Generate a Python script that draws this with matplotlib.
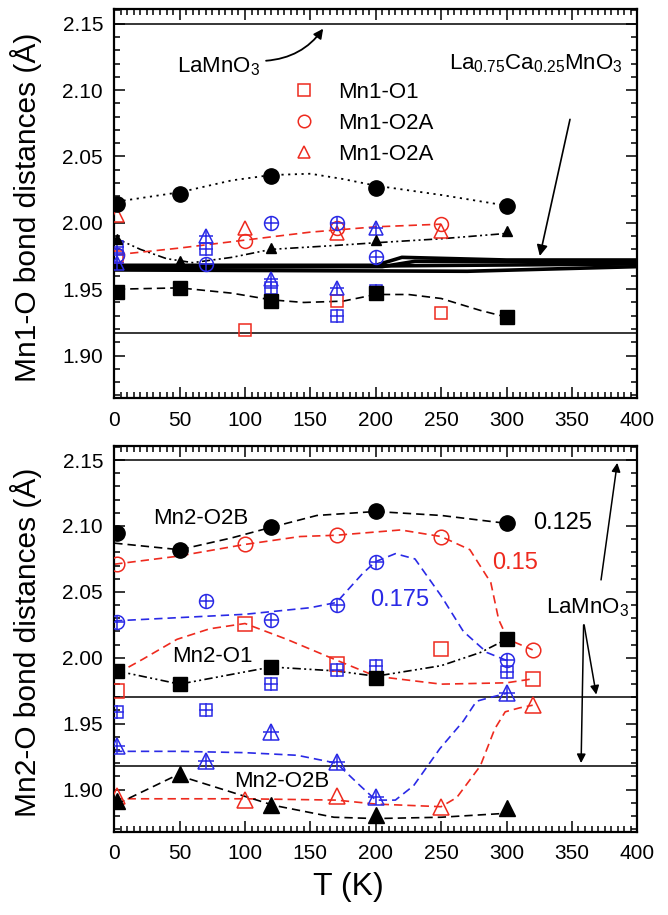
import matplotlib
matplotlib.use("Agg")
import matplotlib.pyplot as plt
from matplotlib.lines import Line2D
from matplotlib.ticker import MultipleLocator

plt.rcParams['font.family'] = ['Liberation Sans', 'DejaVu Sans']
plt.rcParams['mathtext.default'] = 'regular'

# ---------------- top panel: Mn1-O ----------------
T_blk1 = [2, 50, 120, 200, 300]
mn1_circ_blk = [2.014, 2.022, 2.035, 2.026, 2.013]
mn1_sq_blk = [1.948, 1.951, 1.941, 1.947, 1.929]
mn1_tri_blk = [1.988, 1.971, 1.981, 1.987, 1.994]

T_red1 = [2, 100, 170, 250]
mn1_sq_red = [1.974, 1.919, 1.941, 1.932]
mn1_circ_red = [1.976, 1.986, 1.996, 1.999]
mn1_tri_red = [2.006, 1.996, 1.992, 1.994]

T_blue1 = [2, 70, 120, 170, 200]
mn1_circ_blue = [1.976, 1.969, 2.000, 2.000, 1.974]
mn1_sq_blue = [1.982, 1.980, 1.951, 1.930, 1.949]
mn1_tri_blue = [1.970, 1.990, 1.958, 1.951, 1.996]

# guide curves
c1_circ_T = [2, 50, 90, 120, 150, 175, 200, 250, 300]
c1_circ_v = [2.016, 2.023, 2.032, 2.036, 2.037, 2.033, 2.028, 2.021, 2.013]
c1_sq_T = [2, 50, 90, 120, 145, 175, 200, 225, 250, 280, 300]
c1_sq_v = [1.950, 1.951, 1.947, 1.942, 1.940, 1.941, 1.946, 1.946, 1.943, 1.934, 1.929]
c1_tri_T = [2, 20, 40, 60, 90, 120, 170, 200, 250, 300]
c1_tri_v = [1.988, 1.980, 1.973, 1.970, 1.974, 1.980, 1.983, 1.985, 1.988, 1.992]
c1_red_T = [2, 50, 100, 150, 200, 250]
c1_red_v = [1.976, 1.981, 1.987, 1.993, 1.997, 1.999]

# La0.75Ca0.25MnO3 thick lines
lca_T = [[0, 200, 220, 300, 400], [0, 205, 230, 400], [0, 400], [0, 270, 400]]
lca_v = [[1.968, 1.968, 1.974, 1.972, 1.972], [1.967, 1.967, 1.971, 1.971],
         [1.966, 1.969], [1.9645, 1.9635, 1.967]]

lamno3_top = [2.15, 1.917]

# ---------------- bottom panel: Mn2-O ----------------
T_blk2 = [2, 50, 120, 200, 300]
mn2_circ_blk = [2.095, 2.082, 2.099, 2.111, 2.102]
mn2_sq_blk = [1.990, 1.980, 1.993, 1.985, 2.014]
mn2_tri_blk = [1.891, 1.912, 1.888, 1.881, 1.886]

T_red2 = [2, 100, 170, 250, 320]
mn2_circ_red = [2.071, 2.086, 2.093, 2.092, 2.006]
mn2_sq_red = [1.975, 2.026, 1.995, 2.007, 1.984]
mn2_tri_red = [1.895, 1.892, 1.895, 1.887, 1.964]

T_blue2 = [2, 70, 120, 170, 200, 300]
mn2_circ_blue = [2.027, 2.043, 2.029, 2.040, 2.073, 1.998]
mn2_sq_blue = [1.959, 1.960, 1.980, 1.991, 1.994, 1.989]
mn2_tri_blue = [1.933, 1.922, 1.944, 1.921, 1.894, 1.973]

c2_circ_blk_T = [0, 50, 90, 120, 155, 200, 250, 300]
c2_circ_blk_v = [2.087, 2.082, 2.091, 2.099, 2.108, 2.111, 2.108, 2.102]
c2_circ_red_T = [0, 48, 100, 142, 170, 219, 250, 272, 288, 294, 301, 320]
c2_circ_red_v = [2.071, 2.077, 2.086, 2.092, 2.093, 2.097, 2.092, 2.082, 2.057, 2.029, 2.014, 2.006]
c2_circ_blue_T = [0, 60, 100, 150, 170, 190, 200, 215, 230, 250, 267, 285, 300]
c2_circ_blue_v = [2.028, 2.031, 2.033, 2.038, 2.042, 2.064, 2.073, 2.079, 2.075, 2.047, 2.020, 2.004, 1.998]
c2_sq_red_T = [2, 22, 48, 73, 100, 132, 168, 200, 250, 300, 320]
c2_sq_red_v = [1.988, 1.999, 2.014, 2.022, 2.026, 2.014, 1.999, 1.986, 1.980, 1.981, 1.984]
c2_sq_blk_T = [2, 50, 120, 170, 200, 250, 280, 300]
c2_sq_blk_v = [1.990, 1.980, 1.993, 1.990, 1.986, 1.994, 2.004, 2.014]
c2_tri_blue_T = [0, 50, 100, 140, 170, 188, 200, 215, 229, 249, 267, 277, 288, 300]
c2_tri_blue_v = [1.929, 1.929, 1.928, 1.926, 1.920, 1.903, 1.892, 1.892, 1.903, 1.931, 1.952, 1.967, 1.970, 1.973]
c2_tri_red_T = [0, 100, 170, 200, 250, 262, 280, 291, 299, 310, 320]
c2_tri_red_v = [1.893, 1.893, 1.892, 1.889, 1.887, 1.894, 1.918, 1.946, 1.959, 1.962, 1.964]
c2_tri_blk_T = [2, 48, 122, 168, 200, 250, 300]
c2_tri_blk_v = [1.889, 1.911, 1.888, 1.879, 1.878, 1.879, 1.882]

lamno3_bot = [2.15, 1.970, 1.918]

RED = '#ee2a1e'
BLUE = '#2a2ae6'
DASH = (0, (5, 3))
DOT = (0, (1.2, 2.5))
DASHDOT = (0, (5, 2, 1.2, 2, 1.2, 2))


def open_marker(ax, x, y, m, color, size, cross=False):
    ax.plot(x, y, ls='none', marker=m, ms=size, mfc='none', mec=color, mew=1.1, zorder=4)
    if cross:
        ax.plot(x, y, ls='none', marker='+', ms=size * 1.05, mec=color, mew=1.1, zorder=4)


def setup(ax):
    ax.set_xlim(0, 400)
    ax.set_ylim(1.868, 2.161)
    ax.xaxis.set_major_locator(MultipleLocator(50))
    ax.xaxis.set_minor_locator(MultipleLocator(5))
    ax.yaxis.set_major_locator(MultipleLocator(0.05))
    ax.yaxis.set_minor_locator(MultipleLocator(0.01))
    ax.yaxis.set_major_formatter(matplotlib.ticker.FormatStrFormatter('%.2f'))
    ax.tick_params(which='both', direction='in', top=True, right=True, labelsize=15, width=1.1)
    ax.tick_params(which='major', length=8)
    ax.tick_params(which='minor', length=4)
    ax.tick_params(axis='x', pad=9)
    ax.tick_params(axis='y', pad=8)
    for s in ax.spines.values():
        s.set_linewidth(1.6)


fig = plt.figure(figsize=(6.68, 9.15), dpi=100)
ax1 = fig.add_axes([0.171, 0.565, 0.783, 0.425])
ax2 = fig.add_axes([0.171, 0.091, 0.783, 0.422])
setup(ax1)
setup(ax2)

# ---- top ----
for v in lamno3_top:
    ax1.axhline(v, color='k', lw=1.1, zorder=1)
for tt, vv in zip(lca_T, lca_v):
    ax1.plot(tt, vv, color='k', lw=2.6, zorder=2)

ax1.plot(c1_circ_T, c1_circ_v, color='k', ls=DOT, lw=1.3)
ax1.plot(c1_sq_T, c1_sq_v, color='k', ls=DASH, lw=1.2)
ax1.plot(c1_tri_T, c1_tri_v, color='k', ls=DASHDOT, lw=1.2)
ax1.plot(c1_red_T, c1_red_v, color=RED, ls=DASH, lw=1.2)

ax1.plot(T_blk1, mn1_circ_blk, 'o', color='k', ms=11, zorder=5)
ax1.plot(T_blk1, mn1_sq_blk, 's', color='k', ms=10, zorder=5)
ax1.plot(T_blk1, mn1_tri_blk, '^', color='k', ms=7.5, zorder=5)

open_marker(ax1, T_red1, mn1_sq_red, 's', RED, 9)
open_marker(ax1, T_red1, mn1_circ_red, 'o', RED, 10)
open_marker(ax1, T_red1, mn1_tri_red, '^', RED, 9.5)
open_marker(ax1, T_blue1, mn1_circ_blue, 'o', BLUE, 10, True)
open_marker(ax1, T_blue1, mn1_sq_blue, 's', BLUE, 9, True)
open_marker(ax1, T_blue1, mn1_tri_blue, '^', BLUE, 10, True)

handles = [Line2D([], [], ls='none', marker=m, ms=s, mfc='none', mec=RED, mew=1.1)
           for m, s in [('s', 8), ('o', 9), ('^', 9)]]
ax1.legend(handles, ['Mn1-O1', 'Mn1-O2A', 'Mn1-O2A'], loc='upper left',
           bbox_to_anchor=(0.30, 0.865), frameon=False, fontsize=16,
           handletextpad=0.9, labelspacing=0.45, handlelength=1.2)

ax1.text(48, 2.118, 'LaMnO$_3$', fontsize=16, ha='left', va='center')
ax1.annotate('', xy=(161, 2.148), xytext=(114, 2.122),
             arrowprops=dict(arrowstyle='-|>', color='k', lw=1.3,
                             connectionstyle='arc3,rad=0.25', mutation_scale=14))
ax1.text(389, 2.12, 'La$_{0.75}$Ca$_{0.25}$MnO$_3$', fontsize=16, ha='right', va='center')
ax1.annotate('', xy=(325, 1.973), xytext=(349, 2.080),
             arrowprops=dict(arrowstyle='-|>', color='k', lw=1.2, mutation_scale=16))

ax1.set_ylabel('Mn1-O bond distances (Å)', fontsize=21.5)
ax1.yaxis.set_label_coords(-0.138, 0.49)

# ---- bottom ----
for v in lamno3_bot:
    ax2.axhline(v, color='k', lw=1.1, zorder=1)

ax2.plot(c2_circ_blk_T, c2_circ_blk_v, color='k', ls=DASH, lw=1.2)
ax2.plot(c2_circ_red_T, c2_circ_red_v, color=RED, ls=DASH, lw=1.2)
ax2.plot(c2_circ_blue_T, c2_circ_blue_v, color=BLUE, ls=DASH, lw=1.2)
ax2.plot(c2_sq_red_T, c2_sq_red_v, color=RED, ls=DASH, lw=1.2)
ax2.plot(c2_sq_blk_T, c2_sq_blk_v, color='k', ls=DASHDOT, lw=1.2)
ax2.plot(c2_tri_blue_T, c2_tri_blue_v, color=BLUE, ls=DASH, lw=1.2)
ax2.plot(c2_tri_red_T, c2_tri_red_v, color=RED, ls=DASH, lw=1.2)
ax2.plot(c2_tri_blk_T, c2_tri_blk_v, color='k', ls=DASH, lw=1.2)

ax2.plot(T_blk2, mn2_circ_blk, 'o', color='k', ms=11, zorder=5)
ax2.plot(T_blk2, mn2_sq_blk, 's', color='k', ms=10, zorder=5)
ax2.plot(T_blk2, mn2_tri_blk, '^', color='k', ms=11, zorder=5)

open_marker(ax2, T_red2, mn2_circ_red, 'o', RED, 10.5)
open_marker(ax2, T_red2, mn2_sq_red, 's', RED, 9.5)
open_marker(ax2, T_red2, mn2_tri_red, '^', RED, 11)
open_marker(ax2, T_blue2, mn2_circ_blue, 'o', BLUE, 10, True)
open_marker(ax2, T_blue2, mn2_sq_blue, 's', BLUE, 9, True)
open_marker(ax2, T_blue2, mn2_tri_blue, '^', BLUE, 11, True)

ax2.text(66, 2.106, 'Mn2-O2B', fontsize=16, ha='center', va='center')
ax2.text(75, 2.001, 'Mn2-O1', fontsize=16, ha='center', va='center')
ax2.text(128, 1.906, 'Mn2-O2B', fontsize=16, ha='center', va='center')
ax2.text(320, 2.102, '0.125', fontsize=17, ha='left', va='center')
ax2.text(289, 2.072, '0.15', fontsize=17, ha='left', va='center', color=RED)
ax2.text(196, 2.044, '0.175', fontsize=17, ha='left', va='center', color=BLUE)
ax2.text(362, 2.038, 'LaMnO$_3$', fontsize=16, ha='center', va='center')
arr = dict(arrowstyle='-|>', color='k', lw=1.1, mutation_scale=13)
ax2.annotate('', xy=(385, 2.150), xytext=(372, 2.057), arrowprops=arr)
ax2.annotate('', xy=(369, 1.970), xytext=(359, 2.027), arrowprops=arr)
ax2.annotate('', xy=(357, 1.918), xytext=(359, 2.027), arrowprops=arr)

ax2.set_ylabel('Mn2-O bond distances (Å)', fontsize=21.5)
ax2.yaxis.set_label_coords(-0.138, 0.49)
ax2.set_xlabel('T (K)', fontsize=23)
ax2.xaxis.set_label_coords(0.447, -0.105)

fig.savefig('out.png', dpi=100)
